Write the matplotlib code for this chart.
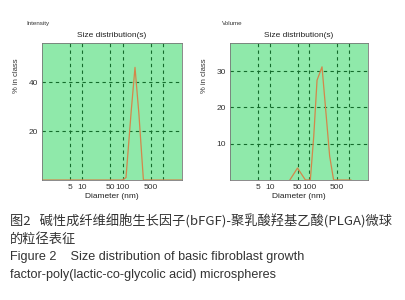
import matplotlib
matplotlib.use('agg')
import matplotlib.pyplot as plt

# intensity distribution (left panel)
int_diam = [1, 100, 122, 164, 204, 255, 330, 3000]
int_pct = [0, 0, 1, 28, 46, 27, 0, 0]

# volume distribution (right panel)
vol_diam = [32, 50, 79, 105, 128, 155, 207, 322, 405, 1100]
vol_pct = [0, 3.3, 0, 0, 12, 27.5, 31.2, 6.6, 0, 0]

xticks = [5, 10, 50, 100, 500, 1000]
xticklabels = ['5', '10', '50', '100', '500', '']

bg = '#8fe9aa'
grid_c = '#146b2c'
line_c = '#d4864a'

plt.rcParams['font.family'] = ['Liberation Sans', 'DejaVu Sans']

fig = plt.figure(figsize=(4.05, 3.0), dpi=100)
ax1 = fig.add_axes([0.1037, 0.40, 0.3457, 0.457])
ax2 = fig.add_axes([0.568, 0.40, 0.341, 0.457])

panels = [(ax1, int_diam, int_pct, [20, 40], 56, 'Intensity', -0.11),
          (ax2, vol_diam, vol_pct, [10, 20, 30], 37.8, 'Volume', -0.06)]

for ax, d, v, yt, ymax, name, nx in panels:
    ax.set_facecolor(bg)
    ax.plot(d, v, '-', color=line_c, lw=0.9)
    ax.set_xscale('log')
    ax.set_xlim(1, 3000)
    ax.set_ylim(0, ymax)
    ax.set_xticks(xticks)
    ax.set_xticklabels(xticklabels)
    ax.minorticks_off()
    ax.set_yticks(yt)
    ax.tick_params(length=0, labelsize=6, pad=3, colors='#333333')
    ax.grid(True, ls=(0, (3, 3)), color=grid_c, lw=0.8)
    for s in ax.spines.values():
        s.set_color('#777777')
        s.set_linewidth(0.6)
    ax.set_title('Size distribution(s)', fontsize=6, pad=4, color='#222222')
    ax.set_xlabel('Diameter (nm)', fontsize=6, labelpad=1, color='#222222')
    ax.set_ylabel('% in class', fontsize=5.5, labelpad=5, color='#333333')
    ax.yaxis.set_label_coords(-0.16, 0.76)
    ax.text(nx, 1.13, name, transform=ax.transAxes, fontsize=4.5,
            color='#333333', ha='left')

cap = ['Noto Sans CJK SC', 'DejaVu Sans']
fig.text(0.025, 1 - 221 / 300, '图2   碱性成纤维细胞生长因子(bFGF)-聚乳酸羟基乙酸(PLGA)微球',
         family=cap, fontsize=9.5, color='#333333', va='center')
fig.text(0.025, 1 - 239 / 300, '的粒径表征', family=cap, fontsize=9.5,
         color='#333333', va='center')
fig.text(0.025, 1 - 257 / 300, 'Figure 2    Size distribution of basic fibroblast growth',
         fontsize=9.1, color='#333333', va='center')
fig.text(0.025, 1 - 275 / 300, 'factor-poly(lactic-co-glycolic acid) microspheres',
         fontsize=9.1, color='#333333', va='center')

plt.savefig('out.png', dpi=100)
